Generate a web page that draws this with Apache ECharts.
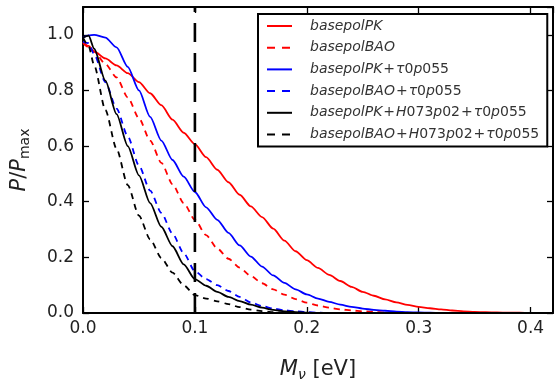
<!DOCTYPE html>
<html>
<head>
<meta charset="utf-8">
<script src="https://cdn.jsdelivr.net/npm/echarts@6/dist/echarts.min.js"></script>
<style>html,body{margin:0;padding:0;background:#fff;}#c{width:556px;height:382px;}</style>
</head>
<body>
<div id="c"></div>
<script>
// M_nu grid (eV)
const xValues = [0, 0.005, 0.01, 0.02, 0.03, 0.04, 0.05, 0.06, 0.07, 0.08, 0.09, 0.10, 0.11, 0.12, 0.13, 0.14, 0.15, 0.16, 0.17, 0.18, 0.19, 0.20, 0.21, 0.22, 0.23, 0.24, 0.25, 0.26, 0.27, 0.28, 0.29, 0.30, 0.31, 0.32, 0.33, 0.34, 0.35, 0.36, 0.37, 0.38, 0.39, 0.40, 0.41, 0.42];

const seriesNames = [
  'basepolPK',
  'basepolBAO',
  'basepolPK+τ0p055',
  'basepolBAO+τ0p055',
  'basepolPK+H073p02+τ0p055',
  'basepolBAO+H073p02+τ0p055'
];

const basepolPK = [0.975, 0.96, 0.94, 0.915, 0.89, 0.862, 0.83, 0.79, 0.747, 0.695, 0.648, 0.607, 0.56, 0.515, 0.47, 0.425, 0.383, 0.345, 0.303, 0.26, 0.222, 0.19, 0.162, 0.137, 0.115, 0.094, 0.076, 0.062, 0.049, 0.038, 0.029, 0.022, 0.017, 0.013, 0.009, 0.006, 0.004, 0.003, 0.002, 0.001, 0.001, 0, 0, 0];
const basepolBAO = [0.97, 0.955, 0.94, 0.895, 0.847, 0.775, 0.70, 0.62, 0.54, 0.463, 0.395, 0.335, 0.28, 0.232, 0.195, 0.163, 0.133, 0.107, 0.085, 0.066, 0.05, 0.037, 0.027, 0.019, 0.013, 0.009, 0.006, 0.004, 0.002, 0.001, 0, 0, 0, 0, 0, 0, 0, 0, 0, 0, 0, 0, 0, 0];
const basepolPKtau = [0.99, 0.998, 1.0, 0.99, 0.955, 0.885, 0.80, 0.705, 0.62, 0.55, 0.49, 0.435, 0.38, 0.335, 0.288, 0.243, 0.203, 0.167, 0.135, 0.108, 0.085, 0.067, 0.052, 0.04, 0.03, 0.022, 0.016, 0.011, 0.008, 0.005, 0.003, 0.002, 0.001, 0, 0, 0, 0, 0, 0, 0, 0, 0, 0, 0];
const basepolBAOtau = [0.975, 0.97, 0.93, 0.83, 0.735, 0.635, 0.53, 0.44, 0.36, 0.285, 0.215, 0.15, 0.122, 0.10, 0.079, 0.058, 0.038, 0.025, 0.016, 0.01, 0.006, 0.003, 0.001, 0, 0, 0, 0, 0, 0, 0, 0, 0, 0, 0, 0, 0, 0, 0, 0, 0, 0, 0, 0, 0];
const basepolPKHtau = [0.99, 0.997, 0.95, 0.835, 0.715, 0.60, 0.495, 0.395, 0.31, 0.24, 0.175, 0.122, 0.098, 0.076, 0.058, 0.043, 0.03, 0.019, 0.011, 0.006, 0.003, 0.001, 0, 0, 0, 0, 0, 0, 0, 0, 0, 0, 0, 0, 0, 0, 0, 0, 0, 0, 0, 0, 0, 0];
const basepolBAOHtau = [0.99, 0.96, 0.89, 0.73, 0.59, 0.46, 0.35, 0.265, 0.198, 0.145, 0.10, 0.064, 0.052, 0.042, 0.032, 0.021, 0.012, 0.007, 0.003, 0.001, 0, 0, 0, 0, 0, 0, 0, 0, 0, 0, 0, 0, 0, 0, 0, 0, 0, 0, 0, 0, 0, 0, 0, 0];

const seriesValues = [basepolPK, basepolBAO, basepolPKtau, basepolBAOtau, basepolPKHtau, basepolBAOHtau];
const seriesColors = ['#ff0000', '#ff0000', '#0000ff', '#0000ff', '#000000', '#000000'];
const seriesDashed = [false, true, false, true, false, true];

const xTicks = [0.0, 0.1, 0.2, 0.3, 0.4];
const yTicks = [0.0, 0.2, 0.4, 0.6, 0.8, 1.0];
const xMin = 0, xMax = 0.42, yMin = 0, yMax = 1.1;
const markerX = 0.1; // vertical dashed reference line

const chart = echarts.init(document.getElementById('c'), null, {renderer: 'canvas'});

function legendFmt(name) {
  let out = '';
  let run = '', runStyle = null;
  const flush = () => { if (run) { out += '{' + runStyle + '|' + run + '}'; run = ''; } };
  for (const ch of name) {
    let st;
    if (ch === '+') st = 'op';
    else if (/[0-9]/.test(ch)) st = 'u';
    else st = 'i';
    if (st !== runStyle || st === 'op') { flush(); runStyle = st; }
    run += ch;
  }
  flush();
  return out;
}

const FONT = 'DejaVu Sans';
const LFS = 14;
const ICON_SOLID = 'path://M0,0H25V2H0Z';
const ICON_DASH = 'path://M0,0H8V2H0Z M15,0H23V2H15Z M25,0H25V2H25Z';

const series = seriesNames.map((n, k) => ({
  name: n,
  type: 'line',
  data: xValues.map((x, i) => [x, seriesValues[k][i]]),
  symbol: 'none',
  smooth: 0.25,
  smoothMonotone: 'x',
  lineStyle: {color: seriesColors[k], width: 1.8, type: seriesDashed[k] ? [6, 5] : 'solid'},
  itemStyle: {color: seriesColors[k]},
  z: 3
}));
series.push({
  name: 'marker',
  type: 'line',
  data: [[markerX, yMax], [markerX, yMin]],
  symbol: 'none',
  lineStyle: {color: '#000', width: 2.6, type: [19, 11], dashOffset: 14},
  z: 4,
  silent: true
});

const axisCommon = {
  axisLine: {show: true, onZero: false, lineStyle: {color: '#000', width: 2}},
  axisTick: {show: true, inside: true, length: 6, lineStyle: {color: '#000', width: 1.3}},
  splitLine: {show: false}
};

const option = {
  animation: false,
  backgroundColor: '#fff',
  grid: {left: 83, right: 3, top: 7, bottom: 69, containLabel: false, outerBoundsMode: 'none'},
  legend: {
    data: seriesNames.map((n, k) => ({name: n, icon: seriesDashed[k] ? ICON_DASH : ICON_SOLID})),
    orient: 'vertical',
    left: 258,
    top: 14,
    padding: [5, 8, 5, 9],
    itemWidth: 25,
    itemHeight: 2,
    itemGap: 7.7,
    backgroundColor: '#fff',
    borderColor: '#000',
    borderWidth: 2,
    borderRadius: 0,
    formatter: legendFmt,
    textStyle: {
      color: '#333',
      fontFamily: FONT,
      fontSize: LFS,
      lineHeight: 14,
      padding: [0, 0, 0, 13],
      rich: {
        i: {fontStyle: 'italic', fontFamily: FONT, fontSize: LFS, color: '#333', lineHeight: 14},
        u: {fontStyle: 'normal', fontFamily: FONT, fontSize: LFS, color: '#333', lineHeight: 14},
        op: {fontStyle: 'normal', fontFamily: FONT, fontSize: LFS, color: '#333', lineHeight: 14, padding: [0, 1, 0, 1]}
      }
    }
  },
  xAxis: [
    Object.assign({}, axisCommon, {
      type: 'value', position: 'bottom', min: xMin, max: xMax, interval: 0.1,
      axisLabel: {
        show: true, margin: 7, color: '#222', fontFamily: FONT, fontSize: 17,
        showMaxLabel: false,
        formatter: v => (xTicks.some(t => Math.abs(t - v) < 1e-9) ? v.toFixed(1) : '')
      },
      name: '{i|M}{sub|ν}{n| [eV]}',
      nameLocation: 'middle',
      nameGap: 44,
      nameTextStyle: {
        color: '#222', fontFamily: FONT, fontSize: 21,
        rich: {
          i: {fontStyle: 'italic', fontFamily: FONT, fontSize: 21, color: '#222', lineHeight: 26},
          sub: {fontStyle: 'italic', fontFamily: FONT, fontSize: 14, color: '#222', lineHeight: 14, padding: [10, 0, 0, 0]},
          n: {fontFamily: FONT, fontSize: 21, color: '#222', lineHeight: 26}
        }
      }
    }),
    Object.assign({}, axisCommon, {
      type: 'value', position: 'top', min: xMin, max: xMax, interval: 0.1,
      axisLabel: {show: false}
    })
  ],
  yAxis: [
    Object.assign({}, axisCommon, {
      type: 'value', position: 'left', min: yMin, max: yMax, interval: 0.2,
      axisLabel: {
        show: true, margin: 9, color: '#222', fontFamily: FONT, fontSize: 17,
        showMaxLabel: false,
        formatter: v => (yTicks.some(t => Math.abs(t - v) < 1e-9) ? v.toFixed(1) : '')
      },
      name: '{i|P}{n|/}{i|P}{sub|max}',
      nameLocation: 'middle',
      nameGap: 50,
      nameRotate: 90,
      nameTextStyle: {
        color: '#222', fontFamily: FONT, fontSize: 21,
        rich: {
          i: {fontStyle: 'italic', fontFamily: FONT, fontSize: 21, color: '#222', lineHeight: 26},
          sub: {fontFamily: FONT, fontSize: 14, color: '#222', lineHeight: 14, padding: [10, 0, 0, 0]},
          n: {fontFamily: FONT, fontSize: 21, color: '#222', lineHeight: 26}
        }
      }
    }),
    Object.assign({}, axisCommon, {
      type: 'value', position: 'right', min: yMin, max: yMax, interval: 0.2,
      axisLabel: {show: false}
    })
  ],
  series: series
};

chart.setOption(option);
</script>
</body>
</html>
